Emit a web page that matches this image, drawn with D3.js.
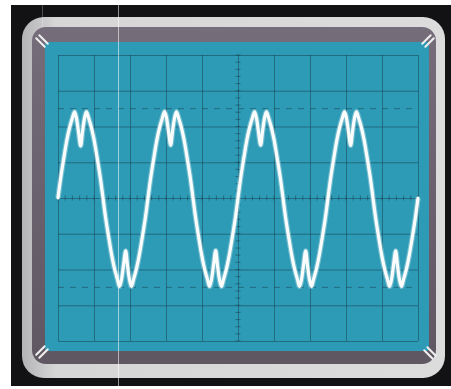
<!DOCTYPE html>
<html>
<head>
<meta charset="utf-8">
<script src="https://cdn.jsdelivr.net/npm/d3@7"></script>
<style>
    body { margin: 0; background: #fff; }
    svg { display: block; }
</style>
</head>
<body>
<div id="scope"></div>
<script>
// graticule divisions (10 x 8)
let xDivs = [0, 1, 2, 3, 4, 5, 6, 7, 8, 9, 10]
let yDivs = [-4, -3, -2, -1, 0, 1, 2, 3, 4]
// dashed rise-time lines
let dashedLevels = [-2.5, 2.5]

// trace, in divisions (4 cycles)
let traceX = [
    0, 0.08, 0.17, 0.25, 0.33, 0.4, 0.46, 0.51, 0.57, 0.63, 0.68, 0.74, 0.79, 0.85, 0.92, 1.0, 1.08, 1.17,
    1.25, 1.33, 1.42, 1.5, 1.58, 1.65, 1.71, 1.76, 1.82, 1.88, 1.93, 1.99, 2.04, 2.1, 2.17, 2.25, 2.33, 2.42,
    2.5, 2.58, 2.67, 2.75, 2.83, 2.9, 2.96, 3.01, 3.07, 3.13, 3.18, 3.24, 3.29, 3.35, 3.42, 3.5, 3.58, 3.67,
    3.75, 3.83, 3.92, 4.0, 4.08, 4.15, 4.21, 4.26, 4.32, 4.38, 4.43, 4.49, 4.54, 4.6, 4.67, 4.75, 4.83, 4.92,
    5.0, 5.08, 5.17, 5.25, 5.33, 5.4, 5.46, 5.51, 5.57, 5.63, 5.68, 5.74, 5.79, 5.85, 5.92, 6.0, 6.08, 6.17,
    6.25, 6.33, 6.42, 6.5, 6.58, 6.65, 6.71, 6.76, 6.82, 6.88, 6.93, 6.99, 7.04, 7.1, 7.17, 7.25, 7.33, 7.42,
    7.5, 7.58, 7.67, 7.75, 7.83, 7.9, 7.96, 8.01, 8.07, 8.13, 8.18, 8.24, 8.29, 8.35, 8.42, 8.5, 8.58, 8.67,
    8.75, 8.83, 8.92, 9.0, 9.08, 9.15, 9.21, 9.26, 9.32, 9.38, 9.43, 9.49, 9.54, 9.6, 9.67, 9.75, 9.83, 9.92,
    10.0
]
let traceY = [
    0, 0.6, 1.17, 1.64, 2.0, 2.24, 2.41, 2.25, 1.85, 1.46, 1.85, 2.25, 2.41, 2.24, 2.0, 1.64, 1.17, 0.6,
    0, -0.6, -1.17, -1.64, -2.02, -2.27, -2.47, -2.3, -1.88, -1.48, -1.88, -2.3, -2.47, -2.27, -2.02, -1.64, -1.17, -0.6,
    0, 0.6, 1.17, 1.64, 2.0, 2.24, 2.42, 2.26, 1.86, 1.48, 1.86, 2.25, 2.41, 2.24, 2.0, 1.64, 1.17, 0.6,
    0, -0.6, -1.17, -1.64, -2.02, -2.27, -2.47, -2.3, -1.88, -1.47, -1.88, -2.3, -2.47, -2.27, -2.02, -1.64, -1.17, -0.6,
    0, 0.6, 1.17, 1.64, 2.0, 2.24, 2.41, 2.25, 1.85, 1.48, 1.85, 2.25, 2.41, 2.24, 2.0, 1.64, 1.17, 0.6,
    0, -0.6, -1.17, -1.64, -2.02, -2.27, -2.47, -2.3, -1.88, -1.48, -1.88, -2.3, -2.47, -2.27, -2.02, -1.64, -1.17, -0.6,
    0, 0.6, 1.17, 1.64, 2.0, 2.24, 2.41, 2.25, 1.85, 1.47, 1.85, 2.25, 2.41, 2.24, 2.0, 1.64, 1.17, 0.6,
    0, -0.6, -1.17, -1.64, -2.02, -2.27, -2.47, -2.3, -1.88, -1.48, -1.88, -2.3, -2.47, -2.27, -2.02, -1.64, -1.17, -0.6,
    0
]

function drawScope() {
    let svgWidth = 451
    let svgHeight = 389
    let svg = d3.select('#scope').append('svg')
        .attr('width', svgWidth)
        .attr('height', svgHeight)

    let defs = svg.append('defs')
    let bezelGrad = defs.append('linearGradient')
        .attr('id', 'bezel')
        .attr('x1', 0).attr('y1', 0).attr('x2', 1).attr('y2', 0)
    bezelGrad.append('stop').attr('offset', '0%').attr('stop-color', '#b4b3b6')
    bezelGrad.append('stop').attr('offset', '8%').attr('stop-color', '#d6d6d7')
    bezelGrad.append('stop').attr('offset', '100%').attr('stop-color', '#dcdcdd')

    let maskGrad = defs.append('linearGradient')
        .attr('id', 'mask')
        .attr('x1', 0).attr('y1', 0).attr('x2', 0).attr('y2', 1)
    maskGrad.append('stop').attr('offset', '0%').attr('stop-color', '#756d7a')
    maskGrad.append('stop').attr('offset', '50%').attr('stop-color', '#69626e')
    maskGrad.append('stop').attr('offset', '100%').attr('stop-color', '#5f5863')

    // black surround
    svg.append('rect')
        .attr('x', 11).attr('y', 5)
        .attr('width', 440).attr('height', 381)
        .attr('fill', '#121214')

    // light bezel
    svg.append('rect')
        .attr('x', 22).attr('y', 17)
        .attr('width', 423).attr('height', 361)
        .attr('rx', 22)
        .attr('fill', 'url(#bezel)')

    // dark mask round the tube
    svg.append('rect')
        .attr('x', 32).attr('y', 27)
        .attr('width', 404).attr('height', 337)
        .attr('rx', 14)
        .attr('fill', 'url(#mask)')

    // screen
    svg.append('rect')
        .attr('x', 45).attr('y', 42)
        .attr('width', 384).attr('height', 309)
        .attr('rx', 3)
        .attr('fill', '#2d9ab6')

    let x = d3.scaleLinear()
        .domain([0, 10])
        .range([58, 418])
    let y = d3.scaleLinear()
        .domain([-4, 4])
        .range([341, 55])

    let gridColor = 'rgba(24, 62, 76, 0.5)'

    let axis_x = d3.axisBottom()
        .scale(x)
        .tickValues(xDivs)
        .tickSize(-(y(-4) - y(4)))
        .tickFormat('')
    svg.append('g')
        .attr('transform', `translate(0, ${y(-4)})`)
        .call(axis_x)
        .call(g => g.select('.domain').remove())
        .selectAll('line')
        .attr('stroke', gridColor)
        .attr('stroke-width', 1)

    let axis_y = d3.axisLeft()
        .scale(y)
        .tickValues(yDivs)
        .tickSize(-(x(10) - x(0)))
        .tickFormat('')
    svg.append('g')
        .attr('transform', `translate(${x(0)}, 0)`)
        .call(axis_y)
        .call(g => g.select('.domain').remove())
        .selectAll('line')
        .attr('stroke', gridColor)
        .attr('stroke-width', 1)

    // dashed rise-time lines
    svg.append('g')
        .selectAll('line')
        .data(dashedLevels)
        .enter()
        .append('line')
        .attr('x1', x(0)).attr('x2', x(10))
        .attr('y1', d => y(d)).attr('y2', d => y(d))
        .attr('stroke', gridColor)
        .attr('stroke-width', 1)
        .attr('stroke-dasharray', '6 6')

    // minor ticks on the centre lines
    let minorX = d3.range(0, 10.001, 0.2)
    let minorY = d3.range(-4, 4.001, 0.2)
    svg.append('g')
        .selectAll('line')
        .data(minorX)
        .enter()
        .append('line')
        .attr('x1', d => x(d)).attr('x2', d => x(d))
        .attr('y1', y(0) - 2.5).attr('y2', y(0) + 2.5)
        .attr('stroke', gridColor)
    svg.append('g')
        .selectAll('line')
        .data(minorY)
        .enter()
        .append('line')
        .attr('x1', x(5) - 2.5).attr('x2', x(5) + 2.5)
        .attr('y1', d => y(d)).attr('y2', d => y(d))
        .attr('stroke', gridColor)

    // the trace
    let points = traceX.map((d, i) => [d, traceY[i]])
    let line = d3.line()
        .x(d => x(d[0]))
        .y(d => y(d[1]))
        .curve(d3.curveCatmullRom.alpha(0.5))
    svg.append('path')
        .datum(points)
        .attr('d', line)
        .attr('fill', 'none')
        .attr('stroke', 'rgba(235, 250, 250, 0.35)')
        .attr('stroke-width', 5.5)
        .attr('stroke-linejoin', 'round')
    svg.append('path')
        .datum(points)
        .attr('d', line)
        .attr('fill', 'none')
        .attr('stroke', '#fbfdfc')
        .attr('stroke-width', 3.2)
        .attr('stroke-linejoin', 'round')
        .attr('stroke-linecap', 'round')

    // corner marks on the mask
    let corners = [
        { cx: 42, cy: 41, a: 45 },
        { cx: 428, cy: 41, a: -45 },
        { cx: 42, cy: 352, a: -45 },
        { cx: 430, cy: 353, a: 45 }
    ]
    corners.forEach(c => {
        let g = svg.append('g')
            .attr('transform', `translate(${c.cx}, ${c.cy}) rotate(${c.a})`)
        ;[-2.2, 2.2].forEach(off => {
            g.append('line')
                .attr('x1', -6).attr('x2', 6)
                .attr('y1', off).attr('y2', off)
                .attr('stroke', '#f0f0f0')
                .attr('stroke-width', 2)
                .attr('stroke-linecap', 'round')
        })
    })

    // scan artefacts
    svg.append('line')
        .attr('x1', 118.5).attr('x2', 118.5)
        .attr('y1', 0).attr('y2', svgHeight)
        .attr('stroke', 'rgba(255, 255, 255, 0.55)')
        .attr('stroke-width', 1)
    svg.append('line')
        .attr('x1', 42.5).attr('x2', 42.5)
        .attr('y1', 5).attr('y2', 27)
        .attr('stroke', 'rgba(255, 255, 255, 0.25)')
        .attr('stroke-width', 1)
}

drawScope()
</script>
</body>
</html>
